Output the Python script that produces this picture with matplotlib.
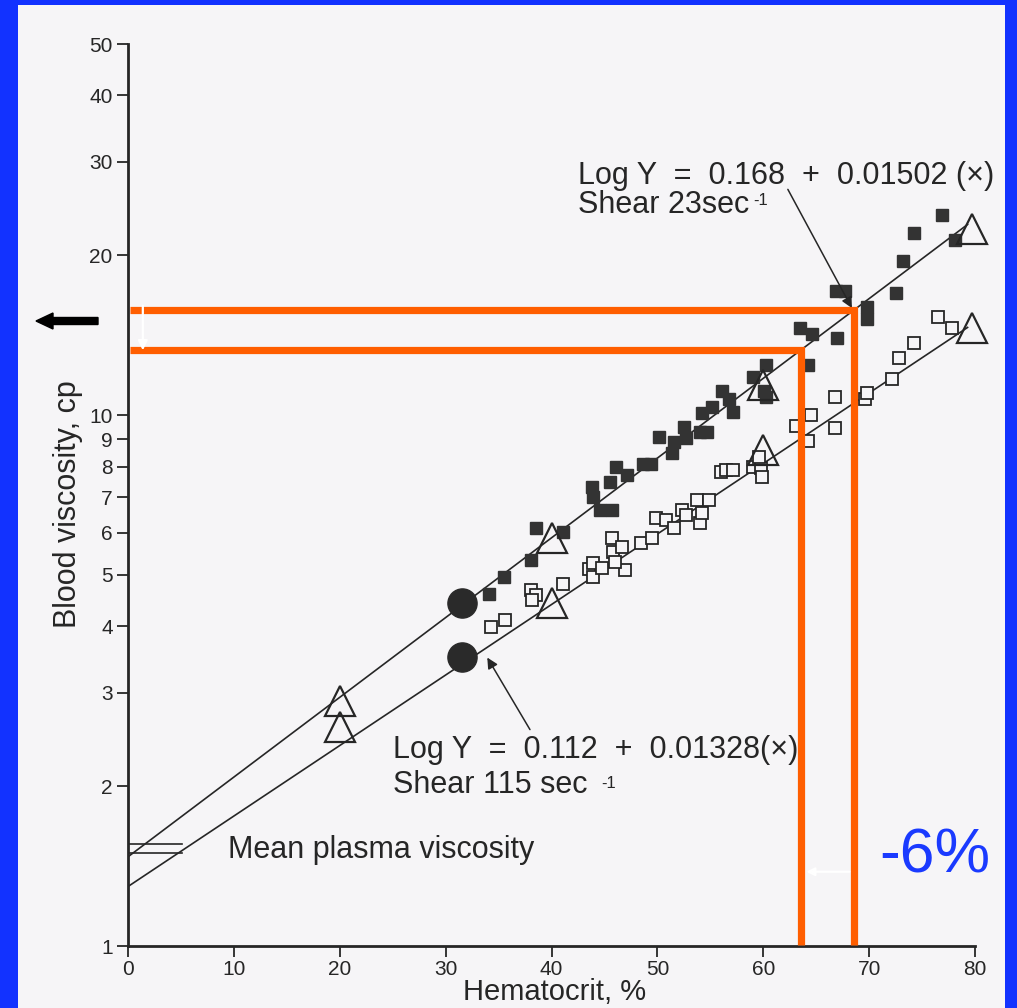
import numpy as np
import matplotlib
matplotlib.use('Agg')
from matplotlib import pyplot as plt
from matplotlib.patches import Rectangle, FancyArrow
from matplotlib.ticker import FixedLocator, NullLocator

plt.rcParams['font.family'] = ['Liberation Sans', 'DejaVu Sans']

## viscosity vs hematocrit, shear 23 sec-1 (filled squares)
hct_23 = [34.1, 35.5, 38.1, 38.5, 41.1, 43.8, 43.9, 44.6, 45.7, 45.5, 46.1, 47.1,
          48.6, 49.4, 50.2, 51.4, 51.6, 52.5, 52.7, 54.0, 54.7, 54.2, 55.2, 56.1,
          56.8, 57.1, 59.0, 60.3, 60.3, 60.1, 63.5, 64.6, 64.2, 67.0, 66.9, 67.7,
          69.8, 69.8, 72.5, 73.2, 74.2, 76.9, 78.1]
visc_23 = [4.60, 4.95, 5.33, 6.12, 6.02, 7.32, 7.00, 6.62, 6.62, 7.48, 7.98, 7.71,
           8.09, 8.09, 9.09, 8.48, 8.90, 9.49, 9.05, 9.29, 9.29, 10.09, 10.35, 11.09,
           10.7, 10.13, 11.8, 12.4, 10.8, 11.1, 14.6, 14.2, 12.4, 14.0, 17.1, 17.1,
           16.0, 15.2, 17.0, 19.5, 22.0, 23.8, 21.4]

## shear 115 sec-1 (open squares)
hct_115 = [34.3, 35.6, 38.1, 38.5, 38.2, 41.1, 43.5, 43.9, 43.9, 44.8, 45.7, 45.8,
           46.7, 46.9, 46.0, 48.5, 49.5, 49.9, 50.8, 51.6, 52.3, 52.7, 53.7, 54.0,
           54.2, 54.9, 56.0, 56.5, 57.1, 59.0, 59.8, 59.9, 59.6, 63.1, 64.2, 64.5,
           66.8, 66.8, 69.6, 69.8, 72.2, 72.8, 74.2, 76.5, 77.8]
visc_115 = [3.99, 4.11, 4.68, 4.58, 4.48, 4.81, 5.13, 5.26, 4.95, 5.15, 5.87, 5.52,
            5.64, 5.11, 5.28, 5.74, 5.87, 6.40, 6.35, 6.12, 6.62, 6.48, 6.92, 6.26,
            6.54, 6.92, 7.81, 7.88, 7.88, 7.98, 7.94, 7.64, 8.34, 9.53, 8.93, 10.0,
            9.46, 10.8, 10.7, 11.0, 11.7, 12.8, 13.7, 15.3, 14.6]

## open triangles and the two large dots
tri_hct = [20, 40, 60, 79.7]
tri_23 = [2.90, 5.87, 11.4, 22.4]
tri_115 = [2.58, 4.43, 8.6, 14.6]
dot_hct = [31.5, 31.5]
dot_visc = [4.43, 3.50]

## regression: log Y = a + b*x
fit_23 = (0.168, 0.01502)
fit_115 = (0.112, 0.01328)
fit_xmax = 79.3
plasma_visc = [1.556, 1.496]

## hematocrit drop shown with the orange guides
hct_before = 68.6
hct_after = 63.6

yticks = [1, 2, 3, 4, 5, 6, 7, 8, 9, 10, 20, 30, 40, 50]
xticks = [0, 10, 20, 30, 40, 50, 60, 70, 80]

ink = '#262626'
orange = '#ff5e00'
blue = '#1232ff'
paper = '#f6f5f7'


def fit_line(fit, x):
    return 10 ** (fit[0] + fit[1] * np.asarray(x))


fig = plt.figure(figsize=(10.17, 10.08), dpi=100)
fig.patch.set_facecolor(blue)
fig.add_artist(Rectangle((18 / 1017, 0), (1005 - 18) / 1017, 1 - 5 / 1008,
                         transform=fig.transFigure, facecolor=paper,
                         edgecolor='none', zorder=-5))

ax = fig.add_axes([128 / 1017, 62 / 1008, 847 / 1017, 902 / 1008])
ax.set_facecolor('none')
ax.set_yscale('log')
ax.set_xlim(0, 80)
ax.set_ylim(1, 50)

for s in ['top', 'right']:
    ax.spines[s].set_visible(False)
for s in ['left', 'bottom']:
    ax.spines[s].set_linewidth(2.0)
    ax.spines[s].set_color(ink)

ax.yaxis.set_major_locator(FixedLocator(yticks))
ax.yaxis.set_minor_locator(NullLocator())
ax.set_yticklabels([str(t) for t in yticks])
ax.set_xticks(xticks)
ax.tick_params(axis='both', direction='out', length=8, width=1.3, color=ink,
               labelsize=15, labelcolor=ink)
ax.tick_params(axis='y', pad=3)
ax.tick_params(axis='x', pad=2)

ax.set_xlabel('Hematocrit, %', fontsize=21, color=ink)
ax.set_ylabel('Blood viscosity, cp', fontsize=22, color=ink)
ax.xaxis.label.set_verticalalignment('baseline')
ax.xaxis.set_label_coords(0.504, -0.060)
ax.yaxis.set_label_coords(-0.053, 0.49)

# fitted lines
xf = np.array([0, fit_xmax])
ax.plot(xf, fit_line(fit_23, xf), color=ink, lw=1.2, zorder=2)
ax.plot(xf, fit_line(fit_115, xf), color=ink, lw=1.2, zorder=2)

# mean plasma viscosity marks
for v in plasma_visc:
    ax.plot([0, 5.1], [v, v], color=ink, lw=1.2, zorder=2)
ax.text(9.4, 1.465, 'Mean plasma viscosity', fontsize=22, color=ink)

# data points
ax.plot(hct_23, visc_23, 's', ms=8.3, color='#333333', mec='#333333', zorder=3)
ax.plot(hct_115, visc_115, 's', ms=8, mfc=paper, mec=ink, mew=1.3, zorder=3)
ax.plot(tri_hct, tri_23, '^', ms=22, mfc='none', mec=ink, mew=1.6, zorder=4,
        clip_on=False)
ax.plot(tri_hct, tri_115, '^', ms=22, mfc='none', mec=ink, mew=1.6, zorder=4,
        clip_on=False)
ax.plot(dot_hct, dot_visc, 'o', ms=21, color='#2a2a2a', zorder=4)

# equations with leader arrows
t1 = ax.text(42.5, 27.3, 'Log Y  =  0.168  +  0.01502 (×)', fontsize=22, color=ink)
t2 = ax.text(42.5, 24.0, 'Shear 23sec', fontsize=22, color=ink)
ax.annotate('-1', xy=(1, 1), xycoords=t2, xytext=(3, -2), textcoords='offset points',
            fontsize=12, color=ink, va='top')
ax.annotate('', xy=(68.5, fit_line(fit_23, 68.5)), xytext=(62.2, 26.9),
            arrowprops=dict(arrowstyle='-|>', color=ink, lw=1.1, mutation_scale=16))

t3 = ax.text(25.0, 2.26, 'Log Y  =  0.112  +  0.01328(×)', fontsize=22, color=ink)
t4 = ax.text(25.0, 1.94, 'Shear 115 sec', fontsize=22, color=ink)
ax.annotate('-1', xy=(1, 1), xycoords=t4, xytext=(10, -4), textcoords='offset points',
            fontsize=12, color=ink, va='top')
ax.annotate('', xy=(33.8, 3.53), xytext=(38.1, 2.53),
            arrowprops=dict(arrowstyle='-|>', color=ink, lw=1.1, mutation_scale=16))

# orange guides from the upper fit down to the hematocrit axis
v_before = fit_line(fit_23, hct_before)
v_after = fit_line(fit_23, hct_after)
for h, v in [(hct_before, v_before), (hct_after, v_after)]:
    ax.plot([0.2, h, h], [v, v, 1.005], color=orange, lw=5.2,
            solid_joinstyle='miter', solid_capstyle='butt', zorder=6)

# white arrows between the guides
ax.annotate('', xy=(1.4, v_after * 0.985), xytext=(1.4, v_before * 1.03),
            arrowprops=dict(arrowstyle='-|>', color='white', lw=1.6, mutation_scale=14),
            zorder=7)
ax.annotate('', xy=(hct_after + 0.2, 1.38), xytext=(hct_before - 0.2, 1.38),
            arrowprops=dict(arrowstyle='-|>', color='white', lw=1.6, mutation_scale=12),
            zorder=7)

ax.text(71.0, 1.375, '-6%', fontsize=45, color='#1a3aff', zorder=7)

# black arrow at left margin
fig.add_artist(FancyArrow(98 / 1017, 1 - 321 / 1008, -62 / 1017, 0,
                          width=7 / 1008, head_width=16 / 1008, head_length=17 / 1017,
                          length_includes_head=True, transform=fig.transFigure,
                          color='black', zorder=8))

fig.savefig('out.png', dpi=100, facecolor=fig.get_facecolor())
